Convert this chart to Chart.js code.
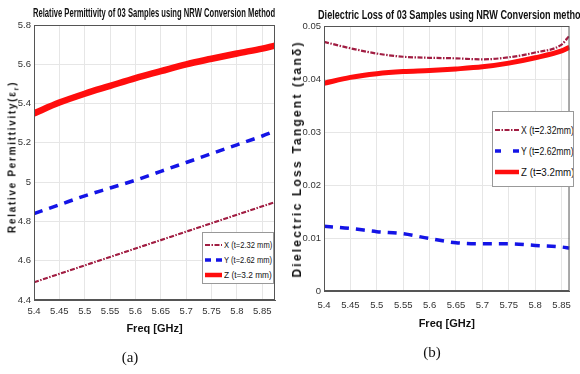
<!DOCTYPE html>
<html>
<head>
<meta charset="utf-8">
<script src="https://cdn.jsdelivr.net/npm/chart.js@4"></script>
<style>
  body { margin: 0; width: 580px; height: 374px; background: #fff; overflow: hidden; position: relative; font-family: "Liberation Sans Narrow", "Liberation Sans", Arial, sans-serif; }
  canvas { position: absolute; top: 0; }
  #chartA { left: 0; }
  #chartB { left: 285px; }
  .title { position: absolute; font-weight: bold; white-space: nowrap; transform-origin: 0 50%; color: #111; line-height: 1; }
  .ytitle { position: absolute; font-family: "Liberation Sans", Arial, sans-serif; font-weight: bold; white-space: nowrap; transform: translate(-50%, -50%) rotate(-90deg); color: #111; }
  .cap { position: absolute; font-family: "Liberation Serif", "Times New Roman", serif; font-size: 15px; transform: translate(-50%, -50%); color: #111; }
  .legend { position: absolute; background: #fff; border: 1px solid #999; box-sizing: border-box; color: #111; overflow: hidden; }
  .legend div { display: flex; align-items: center; white-space: nowrap; }
  .legend svg { margin-right: 2px; flex: none; }
  .legend span { display: inline-block; transform-origin: 0 50%; }
</style>
</head>
<body>
<canvas id="chartA" width="285" height="374"></canvas>
<canvas id="chartB" width="295" height="374"></canvas>

<div class="title" data-w="242" style="left:33px; top:7px; font-size:12px;">Relative Permittivity of 03 Samples using NRW Conversion Method</div>
<div class="title" data-w="268" style="left:318px; top:9px; font-size:12.5px;">Dielectric Loss of 03 Samples using NRW Conversion method</div>

<div class="ytitle" style="left:13px; top:157px; font-size:10px; letter-spacing:1.7px;">Relative Permittivity(ε<sub style="font-size:7px">r</sub>)</div>
<div class="ytitle" style="left:297px; top:159px; font-size:12px; letter-spacing:2.2px;">Dielectric Loss Tangent (tanδ)</div>

<div class="legend" id="legA" style="left:202px; top:232px; width:72px; height:52px; font-size:9px; padding:4px 2px;"></div>
<div class="legend" id="legB" style="left:492px; top:111px; width:82px; height:76px; font-size:10.5px; padding:7px 2px;"></div>

<div class="cap" style="left:130px; top:357px;">(a)</div>
<div class="cap" style="left:432px; top:352px;">(b)</div>

<script>
const freqA = [5.4, 5.45, 5.5, 5.55, 5.6, 5.65, 5.7, 5.75, 5.8, 5.85, 5.875];
const permX = [4.49, 4.533, 4.576, 4.619, 4.662, 4.705, 4.748, 4.791, 4.834, 4.877, 4.898];
const permY = [4.84, 4.885, 4.93, 4.97, 5.01, 5.055, 5.1, 5.145, 5.19, 5.235, 5.26];
const permZ = [5.35, 5.405, 5.45, 5.49, 5.53, 5.565, 5.6, 5.628, 5.655, 5.68, 5.695];

const freqB = [5.4, 5.45, 5.5, 5.55, 5.6, 5.65, 5.7, 5.75, 5.8, 5.85, 5.865];
const lossX = [0.047, 0.0458, 0.0448, 0.0442, 0.044, 0.0439, 0.0437, 0.0441, 0.045, 0.0465, 0.0482];
const lossY = [0.0122, 0.0118, 0.0112, 0.0108, 0.0099, 0.0091, 0.0089, 0.0089, 0.0086, 0.0083, 0.0081];
const lossZ = [0.0392, 0.0403, 0.041, 0.0414, 0.0416, 0.0419, 0.0423, 0.043, 0.044, 0.0453, 0.046];

const xTicks = [5.4, 5.45, 5.5, 5.55, 5.6, 5.65, 5.7, 5.75, 5.8, 5.85];
const permTicks = [4.4, 4.6, 4.8, 5, 5.2, 5.4, 5.6, 5.8];
const lossTicks = [0, 0.01, 0.02, 0.03, 0.04, 0.05];

const labelsA = ["X (t=2.32 mm)", "Y (t=2.62 mm)", "Z (t=3.2 mm)"];
const labelsB = ["X (t=2.32mm)", "Y (t=2.62mm)", "Z (t=3.2mm)"];

const NARROW = '"Liberation Sans Narrow", "Liberation Sans", Arial, sans-serif';
const COL_X = "#a11d42";
const COL_Y = "#1414e6";
const COL_Z = "#ff0d0d";

// MATLAB-like box round the plot area
const boxPlugin = {
  id: "box",
  afterDraw(chart) {
    const { ctx, chartArea: a } = chart;
    ctx.save();
    ctx.strokeStyle = "#555";
    ctx.lineWidth = 1;
    ctx.strokeRect(a.left + 0.5, a.top + 0.5, a.right - a.left - 1, a.bottom - a.top - 1);
    ctx.restore();
  },
};

function toPoints(xs, ys) {
  return xs.map((x, i) => ({ x, y: ys[i] }));
}

function makeChart(canvas, cfg) {
  return new Chart(canvas, {
    type: "line",
    data: {
      datasets: [
        { data: toPoints(cfg.freq, cfg.x), borderColor: COL_X, borderWidth: 2.2, borderDash: [5, 1.5, 1.5, 1.5] },
        { data: toPoints(cfg.freq, cfg.y), borderColor: COL_Y, borderWidth: 3.5, borderDash: [9, 7] },
        { data: toPoints(cfg.freq, cfg.z), borderColor: COL_Z, borderWidth: cfg.zWidth },
      ],
    },
    options: {
      responsive: false,
      animation: false,
      elements: { point: { radius: 0 }, line: { tension: 0.4, cubicInterpolationMode: "monotone" } },
      layout: { padding: { top: cfg.top, right: cfg.right, left: 0, bottom: 0 } },
      plugins: { legend: { display: false }, tooltip: { enabled: false } },
      scales: {
        x: {
          type: "linear",
          min: 5.4,
          max: cfg.xMax,
          afterBuildTicks: (s) => { s.ticks = xTicks.map((v) => ({ value: v })); },
          afterFit: (s) => { s.height = cfg.xHeight; },
          grid: { color: "#e6e6e6", drawTicks: false },
          border: { color: "#555" },
          ticks: { padding: cfg.xPad, color: "#333", font: { family: NARROW, size: 9.5 }, maxRotation: 0, autoSkip: false, callback: (v) => String(v) },
          title: { display: true, text: "Freq [GHz]", color: "#111", font: { family: NARROW, size: 11, weight: "bold" }, padding: { top: 0, bottom: cfg.titlePad } },
        },
        y: {
          min: cfg.yMin,
          max: cfg.yMax,
          afterBuildTicks: (s) => { s.ticks = cfg.yTicks.map((v) => ({ value: v })); },
          afterFit: (s) => { s.width = cfg.yWidth; },
          grid: { color: "#e6e6e6", drawTicks: false },
          border: { color: "#555" },
          ticks: { padding: 3, color: "#333", font: { family: NARROW, size: 9.5 }, callback: (v) => String(v) },
        },
      },
    },
    plugins: [boxPlugin],
  });
}

makeChart(document.getElementById("chartA"), {
  freq: freqA, x: permX, y: permY, z: permZ, zWidth: 6.5,
  xMax: 5.875, yMin: 4.4, yMax: 5.8, yTicks: permTicks,
  top: 25, right: 10, yWidth: 34, xHeight: 74, xPad: 6, titlePad: 38,
});

makeChart(document.getElementById("chartB"), {
  freq: freqB, x: lossX, y: lossY, z: lossZ, zWidth: 5,
  xMax: 5.865, yMin: 0, yMax: 0.05, yTicks: lossTicks,
  top: 26, right: 5, yWidth: 39, xHeight: 83, xPad: 9, titlePad: 43,
});

function sample(kind, w) {
  if (kind === 0) return `<svg width="${w}" height="6"><line x1="0" y1="3" x2="${w}" y2="3" stroke="${COL_X}" stroke-width="2" stroke-dasharray="5,1.5,1.5,1.5"/></svg>`;
  if (kind === 1) return `<svg width="${w}" height="6"><line x1="0" y1="3" x2="${w}" y2="3" stroke="${COL_Y}" stroke-width="3.5" stroke-dasharray="6,${w - 12},6"/></svg>`;
  return `<svg width="${w}" height="6"><line x1="0" y1="3" x2="${w}" y2="3" stroke="${COL_Z}" stroke-width="4.5"/></svg>`;
}

function fillLegend(el, labels, w, gap, textW) {
  el.innerHTML = labels.map((t, i) => `<div style="height:${gap}px">${sample(i, w)}<span>${t}</span></div>`).join("");
  el.querySelectorAll("span").forEach((s) => {
    s.style.transform = `scaleX(${Math.min(1, textW / s.scrollWidth)})`;
  });
}

fillLegend(document.getElementById("legA"), labelsA, 17, 15, 48);
fillLegend(document.getElementById("legB"), labelsB, 24, 21, 53);

document.querySelectorAll(".title").forEach((el) => {
  const target = Number(el.dataset.w);
  el.style.transform = `scaleX(${target / el.scrollWidth})`;
});
</script>
</body>
</html>
